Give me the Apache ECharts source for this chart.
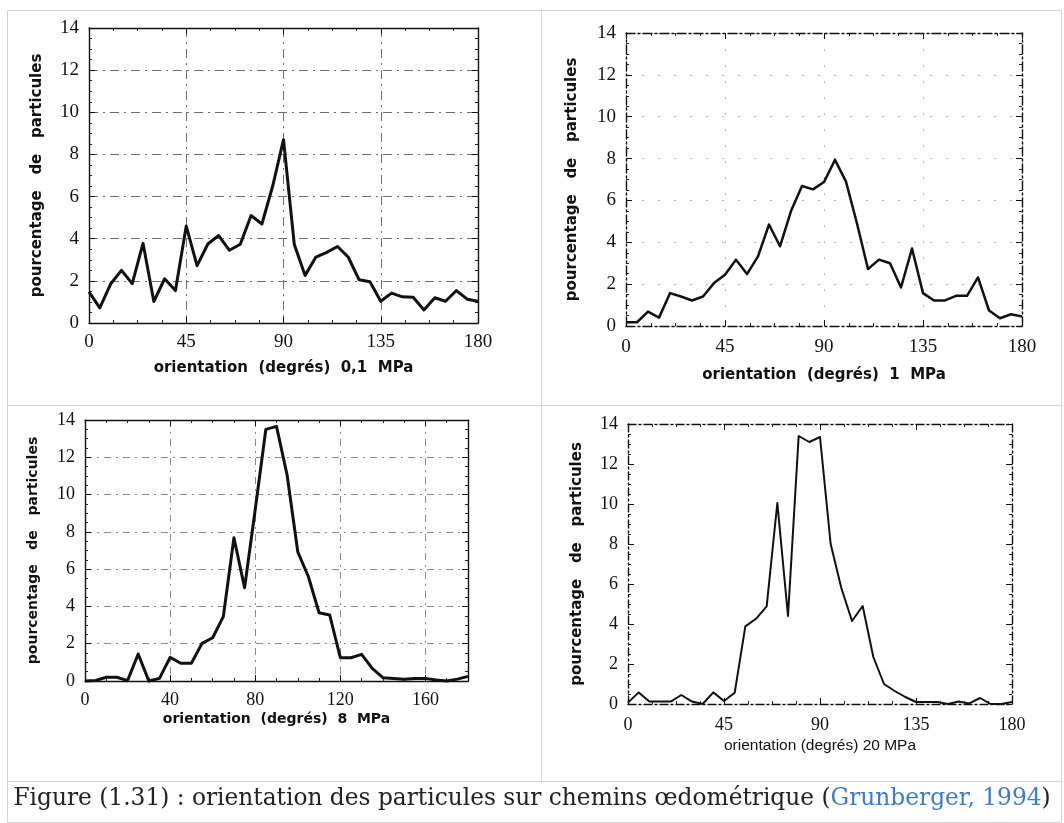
<!DOCTYPE html>
<html><head><meta charset="utf-8">
<script src="https://cdn.jsdelivr.net/npm/echarts@6/dist/echarts.min.js"></script>
<style>html,body{margin:0;padding:0;background:#fff}#c{width:1064px;height:823px}</style>
</head><body><div id="c"></div>
<script>
// ---- data ----
const angles = [0,5,10,15,20,25,30,35,40,45,50,55,60,65,70,75,80,85,90,95,100,105,110,115,120,125,130,135,140,145,150,155,160,165,170,175,180];
const pct01MPa = [1.48,0.72,1.85,2.5,1.87,3.78,1.02,2.1,1.54,4.6,2.72,3.75,4.15,3.45,3.74,5.1,4.7,6.5,8.7,3.72,2.26,3.13,3.35,3.63,3.12,2.05,1.96,1.03,1.42,1.24,1.22,0.62,1.2,1.03,1.54,1.13,1.03];
const pct1MPa  = [0.18,0.18,0.69,0.4,1.57,1.41,1.22,1.41,2.05,2.45,3.17,2.48,3.33,4.85,3.81,5.49,6.69,6.53,6.88,7.94,6.9,4.9,2.72,3.17,3.0,1.84,3.7,1.57,1.22,1.22,1.44,1.44,2.32,0.74,0.37,0.56,0.45];
const pct8MPa  = [0,0.03,0.2,0.2,0.02,1.45,0,0.14,1.27,0.95,0.95,2.02,2.32,3.45,7.68,5.0,9.2,13.5,13.66,11.04,6.93,5.59,3.66,3.54,1.25,1.25,1.43,0.68,0.18,0.14,0.09,0.14,0.14,0.05,0,0.1,0.25];
const pct20MPa = [0.07,0.58,0.12,0.12,0.12,0.45,0.12,0,0.58,0.15,0.56,3.88,4.26,4.88,10.05,4.4,13.4,13.1,13.35,8.0,5.8,4.15,4.9,2.35,1.0,0.65,0.35,0.1,0.1,0.1,0,0.12,0.03,0.3,0,0,0.1];
const xTicks45 = [0,45,90,135,180];
const xTicks40 = [0,40,80,120,160];
const yTicks = [0,2,4,6,8,10,12,14];
const xNames = ['orientation  (degrés)  0,1  MPa','orientation  (degrés)  1  MPa','orientation  (degrés)  8  MPa','orientation (degrés) 20 MPa'];
const yName = 'pourcentage   de   particules';
const captionMain = 'Figure (1.31) : orientation des particules sur chemins œdométrique (';
const captionRef = 'Grunberger, 1994';
const captionEnd = ')';

// ---- layout / style ----
const panels = [
  {data:pct01MPa, xTicks:xTicks45, xInt:45, grid:{left:89,top:28,width:389,height:295},
   tickFs:19, nameFs:15, nameBold:true, xName:xNames[0], lblGapX:10, nameGapX:38, nameGapY:44,
   split:{show:true,lineStyle:{color:'#6f6f6f',width:1,type:[9,5,2,5]}}, border:'solid', lw:3},
  {data:pct1MPa, xTicks:xTicks45, xInt:45, grid:{left:626,top:33,width:396,height:293},
   tickFs:19, nameFs:15, nameBold:true, xName:xNames[1], lblGapX:12, nameGapX:42, nameGapY:46,
   split:{show:true,lineStyle:{color:'#b5b5b5',width:1,type:[2,14]}}, border:[9,3,2,3], lw:2.5},
  {data:pct8MPa, xTicks:xTicks40, xInt:40, grid:{left:85,top:420,width:383,height:261},
   tickFs:18, nameFs:14, nameBold:true, xName:xNames[2], lblGapX:10, nameGapX:31, nameGapY:45,
   split:{show:true,lineStyle:{color:'#8a8a8a',width:1,type:[7,5,2,5]}}, border:'solid', lw:3},
  {data:pct20MPa, xTicks:xTicks45, xInt:45, grid:{left:628,top:424,width:384,height:280},
   tickFs:18, nameFs:15.5, nameBold:false, xName:xNames[3], lblGapX:12, nameGapX:34, nameGapY:43,
   split:{show:false}, border:[8,3,2,3], lw:2}
];

const grids=[], xAxes=[], yAxes=[], series=[];
panels.forEach((p,i)=>{
  grids.push(Object.assign({containLabel:false}, p.grid));
  const lineStyle = {color:'#111', width:1.4, type:p.border};
  const tick = {show:true, inside:true, length:6, lineStyle:{color:'#111',width:1}};
  const minor = {show:true, inside:true, splitNumber:4, length:3, lineStyle:{color:'#222',width:1}};
  const serif = 'Liberation Serif';
  const nameStyle = {fontFamily: p.nameBold ? 'DejaVu Sans' : 'Liberation Sans', fontWeight: p.nameBold ? 'bold':'normal', fontSize:p.nameFs, color:'#111'};
  const yNameStyle = {fontFamily:'DejaVu Sans', fontWeight:'bold', fontSize: i===2 ? 14 : 15, color:'#111'};
  const xt = p.xTicks;
  xAxes.push({type:'value', gridIndex:i, position:'bottom', min:0, max:180, interval:p.xInt,
    axisLine:{show:true,onZero:false,lineStyle}, axisTick:tick, minorTick:minor,
    splitLine:p.split, axisLabel:{show:true, margin:p.lblGapX, fontFamily:serif, fontSize:p.tickFs, color:'#111',
      formatter:v=> xt.indexOf(v)>=0 ? String(v) : ''},
    name:p.xName, nameLocation:'middle', nameGap:p.nameGapX, nameTextStyle:nameStyle});
  xAxes.push({type:'value', gridIndex:i, position:'top', min:0, max:180, interval:p.xInt,
    axisLine:{show:true,onZero:false,lineStyle}, axisTick:tick, minorTick:minor,
    splitLine:{show:false}, axisLabel:{show:false}});
  yAxes.push({type:'value', gridIndex:i, position:'left', min:0, max:14, interval:2,
    axisLine:{show:true,onZero:false,lineStyle}, axisTick:tick, minorTick:minor,
    splitLine:p.split, axisLabel:{show:true, margin:10, fontFamily:serif, fontSize:p.tickFs, color:'#111',
      formatter:v=> yTicks.indexOf(v)>=0 ? String(v) : ''},
    name:yName, nameLocation:'middle', nameGap:p.nameGapY, nameTextStyle:yNameStyle});
  yAxes.push({type:'value', gridIndex:i, position:'right', min:0, max:14, interval:2,
    axisLine:{show:true,onZero:false,lineStyle}, axisTick:tick, minorTick:minor,
    splitLine:{show:false}, axisLabel:{show:false}});
  series.push({type:'line', xAxisIndex:2*i, yAxisIndex:2*i, symbol:'none', clip:false,
    data: angles.map((a,k)=>[a,p.data[k]]),
    lineStyle:{color:'#111', width:p.lw, join:'round'}});
});

const bc = '#d4d4d4';
const graphic = [
  {type:'rect', shape:{x:7.5,y:10.5,width:1054,height:812}, style:{fill:'none',stroke:bc,lineWidth:1}, silent:true},
  {type:'line', shape:{x1:541.5,y1:10,x2:541.5,y2:781}, style:{stroke:bc,lineWidth:1}, silent:true},
  {type:'line', shape:{x1:7,y1:405.5,x2:1062,y2:405.5}, style:{stroke:bc,lineWidth:1}, silent:true},
  {type:'line', shape:{x1:7,y1:781.5,x2:1062,y2:781.5}, style:{stroke:bc,lineWidth:1}, silent:true},
  {type:'text', left:'center', top:787, silent:true,
    style:{text:'{m|'+captionMain+'}{r|'+captionRef+'}{m|'+captionEnd+'}',
      rich:{m:{fontFamily:'DejaVu Serif',fontSize:23.3,fill:'#222'}, r:{fontFamily:'DejaVu Serif',fontSize:23.3,fill:'#3f7cc4'}}}}
];

const chart = echarts.init(document.getElementById('c'), null, {renderer:'canvas'});
chart.setOption({animation:false, backgroundColor:'#fff', grid:grids, xAxis:xAxes, yAxis:yAxes, series, graphic});
</script></body></html>
